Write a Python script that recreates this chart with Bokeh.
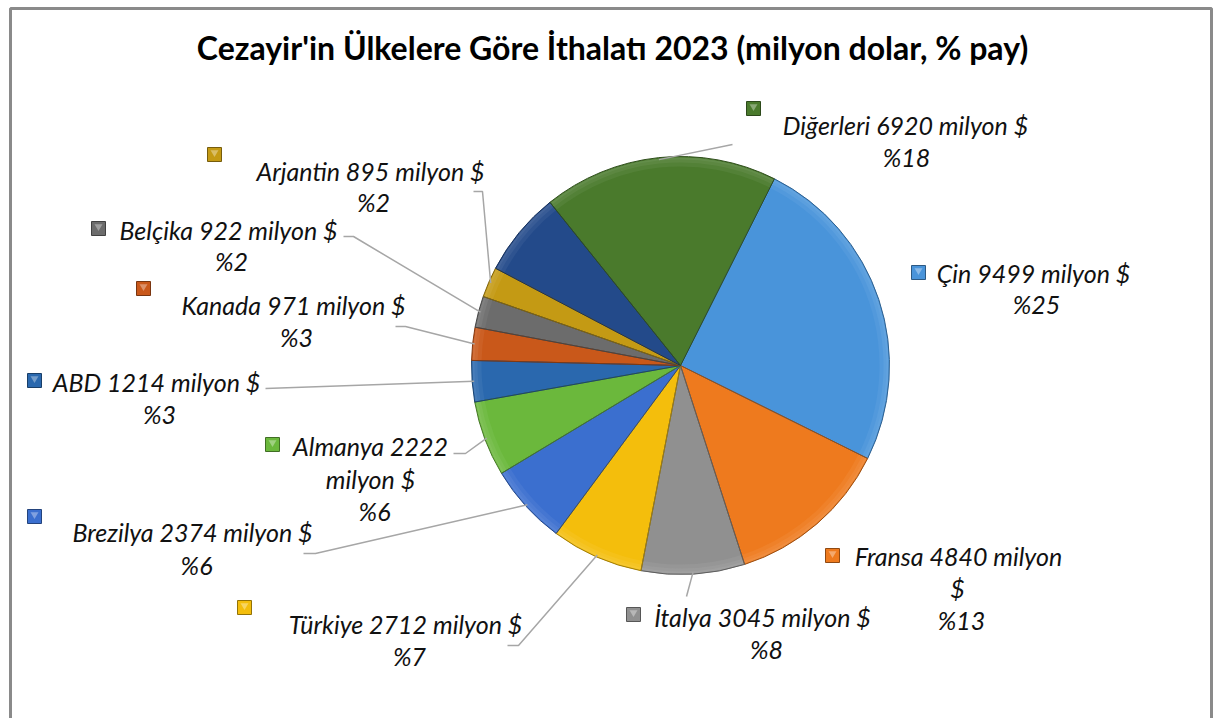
import math
from bokeh.plotting import figure
from bokeh.models import Range1d
from bokeh.core.properties import value
from bokeh.embed import file_html
from bokeh.resources import INLINE

# ---------------- data ----------------
countries = ["Çin", "Fransa", "İtalya", "Türkiye", "Brezilya", "Almanya",
             "ABD", "Kanada", "Belçika", "Arjantin", "", "Diğerleri"]   # "" = unlabeled slice
values = [9499, 4840, 3045, 2712, 2374, 2222, 1214, 971, 922, 895, 2500, 6920]
pct_labels = ["%25", "%13", "%8", "%7", "%6", "%6", "%3", "%3", "%2", "%2", "", "%18"]
title = "Cezayir'in Ülkelere Göre İthalatı 2023 (milyon dolar, % pay)"

# ---------------- style / layout ----------------
colors = ["#4994DA", "#EE7A1E", "#909090", "#F4BE0C", "#3B6FCF", "#6BB83C",
          "#2A68AE", "#C9581A", "#6C6C6C", "#C49A14", "#234A8A", "#4A7A2C"]
W, H = 1219, 718
CX, CY, R = 680, 365, 209
START_DEG = 26.7   # first slice starts here, clockwise from 12 o'clock

def Y(py):
    return H - py

def mix(hexc, other, t):
    h = hexc.lstrip("#")
    r, g, b = int(h[0:2], 16), int(h[2:4], 16), int(h[4:6], 16)
    o = other.lstrip("#")
    r2, g2, b2 = int(o[0:2], 16), int(o[2:4], 16), int(o[4:6], 16)
    return "#%02x%02x%02x" % (round(r + (r2 - r) * t), round(g + (g2 - g) * t), round(b + (b2 - b) * t))

# label layout: (wrap words on first line, line centres, key centre, leader elbow points)
layout = {
    "Çin":       dict(wrap=None, lines=[(1033, 272), (1036, 303)], key=(918, 272), leader=None),
    "Fransa":    dict(wrap=3, lines=[(958, 555), (957, 587), (961, 619)], key=(832, 555), leader=None),
    "İtalya":    dict(wrap=None, lines=[(762, 616), (766, 648)], key=(633, 614), leader=[(686, 596)]),
    "Türkiye":   dict(wrap=None, lines=[(405, 623), (409, 655)], key=(244, 607), leader=[(507, 645), (518, 645)]),
    "Brezilya":  dict(wrap=None, lines=[(192, 531), (196, 564)], key=(34, 516), leader=[(303, 553), (315, 553)]),
    "Almanya":   dict(wrap=2, lines=[(370, 445), (370, 478), (374, 510)], key=(272, 444), leader=[(453, 453), (465, 453)]),
    "ABD":       dict(wrap=None, lines=[(156, 381), (159, 413)], key=(34, 380), leader=[(265, 388)]),
    "Kanada":    dict(wrap=None, lines=[(293, 304), (296, 336)], key=(143, 288), leader=[(395, 326), (405, 326)]),
    "Belçika":   dict(wrap=None, lines=[(228, 229), (231, 260)], key=(98, 228), leader=[(343, 236), (353, 236)]),
    "Arjantin":  dict(wrap=None, lines=[(370, 170), (373, 201)], key=(214, 154), leader=[(473, 191), (482, 191)]),
    "Diğerleri": dict(wrap=None, lines=[(905, 124), (906, 156)], key=(753, 108), leader=[(732, 144)]),
}

p = figure(width=W, height=H, output_backend="svg", toolbar_location=None,
           x_range=Range1d(0, W), y_range=Range1d(0, H), min_border=0)
p.axis.visible = False
p.grid.visible = False
p.outline_line_color = None
p.background_fill_color = "white"
p.border_fill_color = "white"

# chart border
p.line([10, 10, 1211, 1211], [Y(725), Y(8), Y(8), Y(725)], line_color="#8a8a8a", line_width=3)

# title
p.text(x=[612], y=[Y(47)], text=[title], text_font=value("Lato"), text_font_style="bold",
       text_font_size="32px", text_align="center", text_baseline="middle", text_color="black")

# pie geometry from data
total = float(sum(values))
cum = 0.0
starts, ends, mids = [], [], []
for v in values:
    a0 = START_DEG + 360.0 * cum / total
    cum += v
    a1 = START_DEG + 360.0 * cum / total
    starts.append(math.radians(90 - a0))
    ends.append(math.radians(90 - a1))
    mids.append((a0 + a1) / 2.0)

n = len(values)
p.wedge(x=[CX] * n, y=[Y(CY)] * n, radius=R, radius_units="screen",
        start_angle=starts, end_angle=ends, direction="clock",
        fill_color=colors, line_color=None)
# subtle bevel: soft rim bands, no hard inner edge
for k, (r_in, t) in enumerate([(R - 10, 0.05), (R - 6, 0.10), (R - 3, 0.14)]):
    p.annular_wedge(x=[CX] * n, y=[Y(CY)] * n, inner_radius=r_in, outer_radius=R - 1,
                    inner_radius_units="screen", outer_radius_units="screen",
                    start_angle=starts, end_angle=ends, direction="clock",
                    fill_color=[mix(c, "#ffffff", t) for c in colors], line_color=None)
# slice outlines
p.wedge(x=[CX] * n, y=[Y(CY)] * n, radius=R, radius_units="screen",
        start_angle=starts, end_angle=ends, direction="clock",
        fill_alpha=0.0, line_color=[mix(c, "#000000", 0.35) for c in colors], line_width=1)

# labels, keys, leader lines
for i, name in enumerate(countries):
    if not name:
        continue
    lay = layout[name]
    full = f"{name} {values[i]} milyon $"
    words = full.split(" ")
    if lay["wrap"]:
        lines = [" ".join(words[:lay["wrap"]]), " ".join(words[lay["wrap"]:]), pct_labels[i]]
    else:
        lines = [full, pct_labels[i]]
    xs = [pt[0] for pt in lay["lines"]]
    ys = [Y(pt[1]) for pt in lay["lines"]]
    p.text(x=xs, y=ys, text=lines, text_font=value("Lato"), text_font_style="italic",
           text_font_size="25px", text_align="center", text_baseline="middle", text_color="#111111")
    kx, ky = lay["key"]
    p.scatter(x=[kx], y=[Y(ky)], marker="square", size=14, fill_color=colors[i],
              line_color=mix(colors[i], "#000000", 0.4), line_width=1)
    p.scatter(x=[kx], y=[Y(ky) + 2], marker="inverted_triangle", size=8,
              fill_color=mix(colors[i], "#ffffff", 0.35), line_color=None)
    if lay["leader"]:
        th = math.radians(mids[i])
        ex = CX + (R - 2) * math.sin(th)
        ey = CY - (R - 2) * math.cos(th)
        pts = lay["leader"] + [(ex, ey)]
        p.line([q[0] for q in pts], [Y(q[1]) for q in pts], line_color="#a6a6a6", line_width=1.5)

open("out.html", "w").write(file_html(p, INLINE))
